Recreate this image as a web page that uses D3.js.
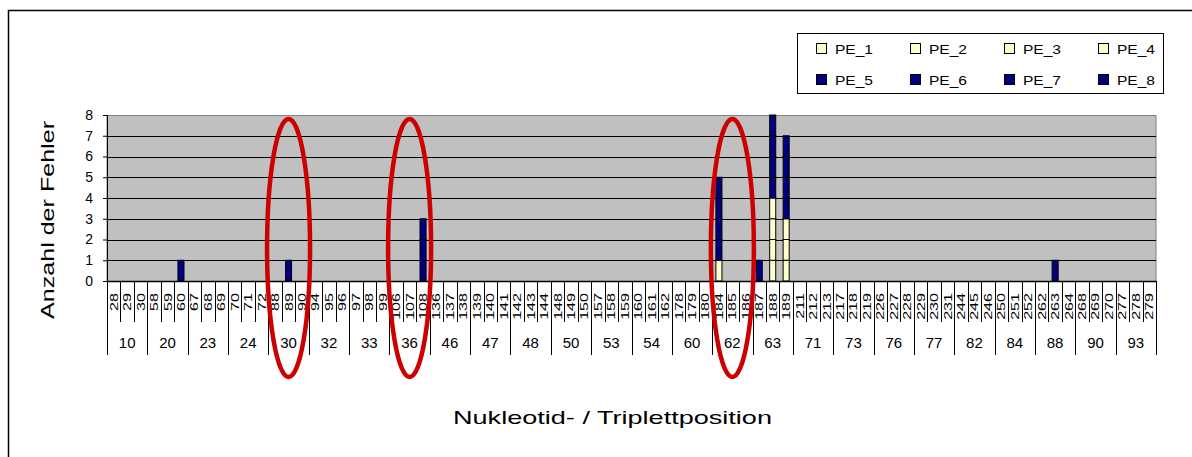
<!DOCTYPE html>
<html>
<head>
    <meta charset="utf-8">
    <title></title>
    <style>
        body { margin: 0; background: #fff; }
        text { font-family: "Liberation Sans", Arial, sans-serif; fill: #000; }
    </style>
</head>
<body>
    <script src="https://d3js.org/d3.v7.min.js"></script>
    <script>
        // nucleotide positions (inner axis level) and their triplet positions (outer level)
        var nukleotide = [28, 29, 30, 58, 59, 60, 67, 68, 69, 70, 71, 72, 88, 89, 90, 94, 95, 96, 97, 98, 99,
            106, 107, 108, 136, 137, 138, 139, 140, 141, 142, 143, 144, 148, 149, 150, 157, 158, 159,
            160, 161, 162, 178, 179, 180, 184, 185, 186, 187, 188, 189, 211, 212, 213, 217, 218, 219,
            226, 227, 228, 229, 230, 231, 244, 245, 246, 250, 251, 252, 262, 263, 264, 268, 269, 270,
            277, 278, 279];
        var tripletts = [10, 20, 23, 24, 30, 32, 33, 36, 46, 47, 48, 50, 53, 54, 60, 62, 63, 71, 73, 76,
            77, 82, 84, 88, 90, 93];
        var yTicks = [0, 1, 2, 3, 4, 5, 6, 7, 8];

        // error counts per nucleotide position, one array per series
        //           28-30  58-60  67-69  70-72  88-90  94-96  97-99  106-8  136-8  139-41 142-4  148-50 157-9  160-2  178-80 184-6  187-9  211-3  217-9  226-8  229-31 244-6  250-2  262-4  268-70 277-9
        var PE_1 = [0,0,0, 0,0,0, 0,0,0, 0,0,0, 0,0,0, 0,0,0, 0,0,0, 0,0,0, 0,0,0, 0,0,0, 0,0,0, 0,0,0, 0,0,0, 0,0,0, 0,0,0, 1,0,0, 0,1,1, 0,0,0, 0,0,0, 0,0,0, 0,0,0, 0,0,0, 0,0,0, 0,0,0, 0,0,0, 0,0,0];
        var PE_2 = [0,0,0, 0,0,0, 0,0,0, 0,0,0, 0,0,0, 0,0,0, 0,0,0, 0,0,0, 0,0,0, 0,0,0, 0,0,0, 0,0,0, 0,0,0, 0,0,0, 0,0,0, 0,0,0, 0,1,1, 0,0,0, 0,0,0, 0,0,0, 0,0,0, 0,0,0, 0,0,0, 0,0,0, 0,0,0, 0,0,0];
        var PE_3 = [0,0,0, 0,0,0, 0,0,0, 0,0,0, 0,0,0, 0,0,0, 0,0,0, 0,0,0, 0,0,0, 0,0,0, 0,0,0, 0,0,0, 0,0,0, 0,0,0, 0,0,0, 0,0,0, 0,1,1, 0,0,0, 0,0,0, 0,0,0, 0,0,0, 0,0,0, 0,0,0, 0,0,0, 0,0,0, 0,0,0];
        var PE_4 = [0,0,0, 0,0,0, 0,0,0, 0,0,0, 0,0,0, 0,0,0, 0,0,0, 0,0,0, 0,0,0, 0,0,0, 0,0,0, 0,0,0, 0,0,0, 0,0,0, 0,0,0, 0,0,0, 0,1,0, 0,0,0, 0,0,0, 0,0,0, 0,0,0, 0,0,0, 0,0,0, 0,0,0, 0,0,0, 0,0,0];
        var PE_5 = [0,0,0, 0,0,1, 0,0,0, 0,0,0, 0,0,0, 0,0,0, 0,0,0, 0,0,1, 0,0,0, 0,0,0, 0,0,0, 0,0,0, 0,0,0, 0,0,0, 0,0,0, 1,0,0, 0,1,1, 0,0,0, 0,0,0, 0,0,0, 0,0,0, 0,0,0, 0,0,0, 0,0,0, 0,0,0, 0,0,0];
        var PE_6 = [0,0,0, 0,0,0, 0,0,0, 0,0,0, 0,1,0, 0,0,0, 0,0,0, 0,0,1, 0,0,0, 0,0,0, 0,0,0, 0,0,0, 0,0,0, 0,0,0, 0,0,0, 1,0,0, 0,1,1, 0,0,0, 0,0,0, 0,0,0, 0,0,0, 0,0,0, 0,0,0, 0,0,0, 0,0,0, 0,0,0];
        var PE_7 = [0,0,0, 0,0,0, 0,0,0, 0,0,0, 0,0,0, 0,0,0, 0,0,0, 0,0,1, 0,0,0, 0,0,0, 0,0,0, 0,0,0, 0,0,0, 0,0,0, 0,0,0, 1,0,0, 0,1,1, 0,0,0, 0,0,0, 0,0,0, 0,0,0, 0,0,0, 0,0,0, 0,1,0, 0,0,0, 0,0,0];
        var PE_8 = [0,0,0, 0,0,0, 0,0,0, 0,0,0, 0,0,0, 0,0,0, 0,0,0, 0,0,0, 0,0,0, 0,0,0, 0,0,0, 0,0,0, 0,0,0, 0,0,0, 0,0,0, 1,0,0, 1,1,1, 0,0,0, 0,0,0, 0,0,0, 0,0,0, 0,0,0, 0,0,0, 0,0,0, 0,0,0, 0,0,0];

        var seriesNames = ["PE_1", "PE_2", "PE_3", "PE_4", "PE_5", "PE_6", "PE_7", "PE_8"];
        var seriesValues = [PE_1, PE_2, PE_3, PE_4, PE_5, PE_6, PE_7, PE_8];
        // triplets the red ellipses point at
        var markiert = [30, 36, 62];

        var width = 1192,
            height = 457;
        var plotLeft = 107, plotRight = 1156, plotTop = 115, plotBottom = 281;

        var table = nukleotide.map(function(n, i) {
            var row = { pos: String(n) };
            seriesNames.forEach(function(s, j) { row[s] = seriesValues[j][i]; });
            return row;
        });

        var svg = d3.select("body").append("svg")
            .attr("width", width)
            .attr("height", height);

        // outer chart border (only top and left are in the picture)
        svg.append("rect")
            .attr("x", 8.5).attr("y", 10.5)
            .attr("width", 1300).attr("height", 600)
            .attr("fill", "none").attr("stroke", "#000").attr("stroke-width", 1.5);

        var x = d3.scaleBand()
            .domain(table.map(function(d) { return d.pos; }))
            .range([plotLeft, plotRight])
            .paddingInner(0.55)
            .paddingOuter(0.275);

        var y = d3.scaleLinear()
            .domain([0, 8])
            .range([plotBottom, plotTop]);

        // plot area
        svg.append("rect")
            .attr("x", plotLeft).attr("y", plotTop + 0.5)
            .attr("width", plotRight - plotLeft).attr("height", plotBottom - plotTop)
            .attr("fill", "#c0c0c0")
            .attr("stroke", "#808080");

        svg.append("g").selectAll("line")
            .data(yTicks.filter(function(t) { return t > 0 && t < 8; }))
            .enter().append("line")
            .attr("x1", plotLeft).attr("x2", plotRight)
            .attr("y1", function(d) { return Math.round(y(d)) + 0.5; })
            .attr("y2", function(d) { return Math.round(y(d)) + 0.5; })
            .attr("stroke", "#000");

        // stacked bars
        var stack = d3.stack().keys(seriesNames);
        var layers = stack(table);

        svg.append("g").selectAll("g")
            .data(layers)
            .enter().append("g")
            .attr("fill", function(d, i) { return i < 4 ? "#ffffcc" : "#000080"; })
            .selectAll("rect")
            .data(function(d) { return d.filter(function(p) { return p[1] - p[0] > 0; }); })
            .enter().append("rect")
            .attr("x", function(d) { return x(d.data.pos); })
            .attr("width", x.bandwidth())
            .attr("y", function(d) { return y(d[1]); })
            .attr("height", function(d) { return y(d[0]) - y(d[1]); })
            .attr("stroke", "#000")
            .attr("stroke-width", 1);

        // y axis
        var yAxis = svg.append("g")
            .attr("transform", "translate(" + plotLeft + ",0)")
            .call(d3.axisLeft(y).tickValues(yTicks).tickSize(4).tickPadding(10));
        yAxis.select(".domain").attr("stroke", "#000");
        yAxis.selectAll("line").attr("stroke", "#000");
        yAxis.selectAll("text")
            .attr("font-size", 14)
            .attr("font-family", "Liberation Sans, Arial, sans-serif")
            .attr("fill", "#000");

        // x axis line
        svg.append("line")
            .attr("x1", plotLeft).attr("x2", plotRight)
            .attr("y1", plotBottom + 0.5).attr("y2", plotBottom + 0.5)
            .attr("stroke", "#000").attr("stroke-width", 1.5);

        // inner level: nucleotide ticks and rotated labels
        var step = x.step();
        var inner = svg.append("g");
        inner.selectAll("line")
            .data(nukleotide)
            .enter().append("line")
            .attr("x1", function(d, i) { return Math.round(plotLeft + i * step) + 0.5; })
            .attr("x2", function(d, i) { return Math.round(plotLeft + i * step) + 0.5; })
            .attr("y1", plotBottom).attr("y2", 322)
            .attr("stroke", "#000");
        inner.selectAll("text")
            .data(nukleotide)
            .enter().append("text")
            .attr("transform", function(d) {
                var cx = x(String(d)) + x.bandwidth() / 2 + 4;
                return "translate(" + cx + ",293) rotate(-90) scale(1.4,1)";
            })
            .attr("text-anchor", "end")
            .attr("font-size", 11.5)
            .text(function(d) { return d; });

        // outer level: triplet groups of three
        var outer = svg.append("g");
        outer.selectAll("line")
            .data(d3.range(tripletts.length + 1))
            .enter().append("line")
            .attr("x1", function(d) { return Math.round(plotLeft + d * 3 * step) + 0.5; })
            .attr("x2", function(d) { return Math.round(plotLeft + d * 3 * step) + 0.5; })
            .attr("y1", plotBottom).attr("y2", 355)
            .attr("stroke", "#000");
        outer.selectAll("text")
            .data(tripletts)
            .enter().append("text")
            .attr("x", function(d, i) { return plotLeft + (i * 3 + 1.5) * step; })
            .attr("y", 348)
            .attr("text-anchor", "middle")
            .attr("font-size", 15)
            .text(function(d) { return d; });

        // axis titles
        svg.append("text")
            .attr("transform", "translate(54,220) rotate(-90)")
            .attr("text-anchor", "middle")
            .attr("font-size", 19)
            .attr("textLength", 198)
            .attr("lengthAdjust", "spacingAndGlyphs")
            .text("Anzahl der Fehler");

        svg.append("text")
            .attr("x", 453).attr("y", 424)
            .attr("font-size", 19)
            .attr("textLength", 319)
            .attr("lengthAdjust", "spacingAndGlyphs")
            .text("Nukleotid- / Triplettposition");

        // legend
        var legend = svg.append("g");
        legend.append("rect")
            .attr("x", 797.5).attr("y", 33.5)
            .attr("width", 366).attr("height", 60)
            .attr("fill", "#fff").attr("stroke", "#000");
        var items = legend.selectAll("g.item")
            .data(seriesNames)
            .enter().append("g")
            .attr("class", "item")
            .attr("transform", function(d, i) {
                return "translate(" + (816 + (i % 4) * 94) + "," + (i < 4 ? 48 : 79) + ")";
            });
        items.append("rect")
            .attr("x", 0.5).attr("y", -4.5)
            .attr("width", 10).attr("height", 10)
            .attr("fill", function(d, i) { return i < 4 ? "#ffffcc" : "#000080"; })
            .attr("stroke", "#000");
        items.append("text")
            .attr("x", 19).attr("y", 5.5)
            .attr("font-size", 13.5)
            .attr("textLength", 38)
            .attr("lengthAdjust", "spacingAndGlyphs")
            .text(function(d) { return d; });

        // red ellipses around the marked triplets
        svg.append("g").selectAll("ellipse")
            .data(markiert)
            .enter().append("ellipse")
            .attr("cx", function(d) {
                var i = tripletts.indexOf(d);
                return plotLeft + (i * 3 + 1.5) * step;
            })
            .attr("cy", 248)
            .attr("rx", 21.5)
            .attr("ry", 129)
            .attr("fill", "none")
            .attr("stroke", "#cc0000")
            .attr("stroke-width", 4.5);
    </script>
</body>
</html>
